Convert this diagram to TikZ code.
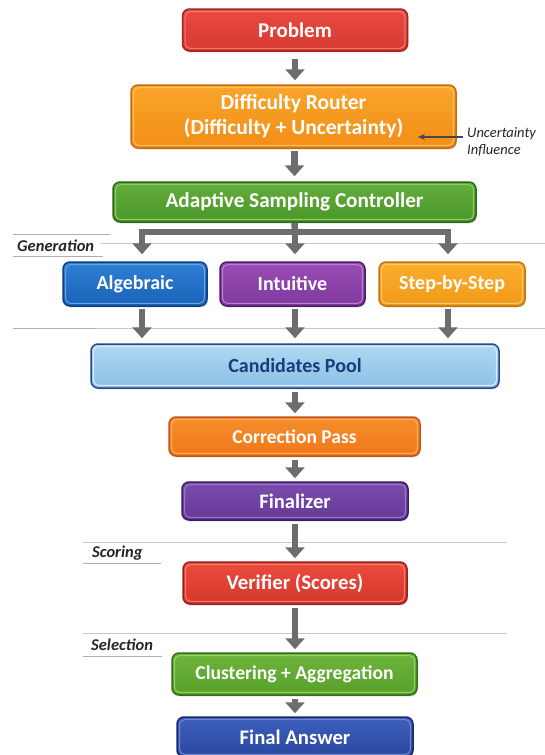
\documentclass[tikz,border=0pt]{standalone}
\usepackage{fontspec}
\setmainfont{Carlito}
\usetikzlibrary{arrows.meta,shadows}
\definecolor{probT}{HTML}{E94B42}\definecolor{probB}{HTML}{D63930}\definecolor{probD}{HTML}{A3261F}\definecolor{probL}{HTML}{F07A70}
\definecolor{diffT}{HTML}{F8A52A}\definecolor{diffB}{HTML}{F28E17}\definecolor{diffD}{HTML}{C96A12}\definecolor{diffL}{HTML}{FBC060}
\definecolor{ctrlT}{HTML}{62AD3C}\definecolor{ctrlB}{HTML}{4B9629}\definecolor{ctrlD}{HTML}{2E6718}\definecolor{ctrlL}{HTML}{8CCB62}
\definecolor{algT}{HTML}{2F80D6}\definecolor{algB}{HTML}{1962B7}\definecolor{algD}{HTML}{0F3F7E}\definecolor{algL}{HTML}{62A6E8}
\definecolor{intT}{HTML}{9B4DB5}\definecolor{intB}{HTML}{7F399E}\definecolor{intD}{HTML}{4D1C66}\definecolor{intL}{HTML}{B97FD0}
\definecolor{stepT}{HTML}{F9AD2E}\definecolor{stepB}{HTML}{F19A18}\definecolor{stepD}{HTML}{C47312}\definecolor{stepL}{HTML}{FCC868}
\definecolor{poolT}{HTML}{AED8F0}\definecolor{poolB}{HTML}{8BC0E6}\definecolor{poolD}{HTML}{27488A}\definecolor{poolL}{HTML}{D6ECF9}\definecolor{poolTx}{HTML}{1D3A7C}
\definecolor{corrT}{HTML}{F68D2C}\definecolor{corrB}{HTML}{F07818}\definecolor{corrD}{HTML}{C2561A}\definecolor{corrL}{HTML}{FAAE62}
\definecolor{finT}{HTML}{7B4CAB}\definecolor{finB}{HTML}{653998}\definecolor{finD}{HTML}{3C1C68}\definecolor{finL}{HTML}{9B76C4}
\definecolor{verT}{HTML}{EC4B3C}\definecolor{verB}{HTML}{D5382C}\definecolor{verD}{HTML}{99201A}\definecolor{verL}{HTML}{F27A6E}
\definecolor{clT}{HTML}{6DB43C}\definecolor{clB}{HTML}{57A02A}\definecolor{clD}{HTML}{336E18}\definecolor{clL}{HTML}{96CF6A}
\definecolor{faT}{HTML}{3D5FBB}\definecolor{faB}{HTML}{2A479F}\definecolor{faD}{HTML}{18296C}\definecolor{faL}{HTML}{6A88D2}
\definecolor{arrowgray}{HTML}{6D6D6D}
\definecolor{guidegray}{HTML}{C8C8C8}
\definecolor{ulgray}{HTML}{AFAFAF}
\definecolor{labelgray}{HTML}{262626}
\tikzset{
  box/.style={rounded corners=7pt, line width=1.5pt, inner sep=0pt, align=center,
    font=\fontsize{20}{25}\selectfont\bfseries, text=white,
    drop shadow={shadow xshift=0.8pt, shadow yshift=-1.5pt, opacity=0.22}},
  fs/.style={font=\fontsize{#1}{25}\selectfont\bfseries},
  hl/.style={path picture={\draw[#1, line width=1pt, rounded corners=5pt]
    ([shift={(2.6pt,-2.6pt)}]path picture bounding box.north west) rectangle
    ([shift={(-2.6pt,2.6pt)}]path picture bounding box.south east);}},
  cbox/.style n args={4}{box, top color=#1, bottom color=#2, draw=#3, hl=#4},
  arr/.style={draw=arrowgray, line width=6.5pt, -{Triangle[width=19pt,length=11pt]},
    shorten <=3pt, shorten >=3pt},
  shaft/.style={draw=arrowgray, line width=6.5pt},
  guide/.style={draw=guidegray, line width=0.9pt},
  uline/.style={draw=ulgray, line width=0.9pt},
  lbl/.style={font=\fontsize{16.5}{18}\selectfont\bfseries\itshape, text=labelgray, inner sep=0pt},
  thinarr/.style={draw=labelgray!85, line width=1.1pt, -{Stealth[width=6pt,length=7pt]}}
}
\begin{document}
\begin{tikzpicture}[x=1pt,y=-1pt]
\useasboundingbox (0,0) rectangle (545,755);
\fill[white] (0,0) rectangle (545,755);
\clip (0,0) rectangle (545,755);

% guide lines
\draw[uline] (13,234) -- (110,234);
\draw[guide] (100,243) -- (545,243);
\draw[uline] (13,256) -- (103,256);
\draw[uline] (13,328) -- (95,328);
\draw[guide] (95,328) -- (545,328);
\draw[guide] (83,542) -- (507,542);
\draw[uline] (83,563) -- (161,563);
\draw[guide] (83,633) -- (507,633);
\draw[uline] (83,656) -- (162,656);

\node[lbl, anchor=west] (lgen) at (17,246) {Generation};
\node[lbl, anchor=west] (lsco) at (92,553) {Scoring};
\node[lbl, anchor=west] (lsel) at (91,645) {Selection};

% boxes
\node[cbox={probT}{probB}{probD}{probL}, fs=21, minimum width=225pt, minimum height=42pt] (prob) at (295,30) {Problem};
\node[cbox={diffT}{diffB}{diffD}{diffL}, fs=21.5, minimum width=325pt, minimum height=63pt] (diff) at (293.5,116.5) {Difficulty Router\\(Difficulty + Uncertainty)};
\node[cbox={ctrlT}{ctrlB}{ctrlD}{ctrlL}, fs=21.2, minimum width=363pt, minimum height=40pt] (ctrl) at (294.5,202) {Adaptive Sampling Controller};
\node[cbox={algT}{algB}{algD}{algL}, minimum width=144pt, minimum height=44pt] (alg) at (135,284) {Algebraic};
\node[cbox={intT}{intB}{intD}{intL}, minimum width=145pt, minimum height=44pt] (int) at (292.5,284) {Intuitive};
\node[cbox={stepT}{stepB}{stepD}{stepL}, minimum width=146pt, minimum height=44pt] (step) at (452,284) {Step-by-Step};
\node[cbox={poolT}{poolB}{poolD}{poolL}, text=poolTx, minimum width=408pt, minimum height=44pt] (pool) at (295,366) {Candidates Pool};
\node[cbox={corrT}{corrB}{corrD}{corrL}, fs=19.5, minimum width=251pt, minimum height=39pt] (corr) at (294.5,436.5) {Correction Pass};
\node[cbox={finT}{finB}{finD}{finL}, fs=20.6, minimum width=226pt, minimum height=38pt] (fin) at (295,501) {Finalizer};
\node[cbox={verT}{verB}{verD}{verL}, fs=20.8, minimum width=224pt, minimum height=42pt] (ver) at (295,583) {Verifier (Scores)};
\node[cbox={clT}{clB}{clD}{clL}, fs=19.6, minimum width=245pt, minimum height=42pt] (clu) at (294.5,674) {Clustering + Aggregation};
\node[cbox={faT}{faB}{faD}{faL}, fs=20.7, minimum width=236pt, minimum height=40pt] (fa) at (295,737) {Final Answer};

% uncertainty annotation
\node[font=\fontsize{14.5}{17}\selectfont\itshape, text=labelgray, align=left, anchor=west, inner sep=0pt] (unc) at (467,141.5) {Uncertainty\\Influence};
\coordinate (uncS) at (463,137);
\coordinate (uncT) at (418,137);
\draw[thinarr] (uncS) -- (uncT);

% arrows
\draw[arr, shorten <=7pt, shorten >=4pt] (prob) -- (prob |- diff.north);
\draw[arr, shorten <=2pt, shorten >=5pt] (ctrl |- diff.south) -- (ctrl.north);
\coordinate (bm) at (295,232);
\draw[shaft] (ctrl.south) -- (bm);
\draw[arr, shorten <=0pt, shorten >=7pt, line join=miter] (bm) -| ([xshift=7pt]alg.north);
\draw[arr, shorten <=0pt, shorten >=7pt, line join=miter] (bm) -| ([xshift=-4pt]step.north);
\draw[arr, shorten <=0pt, shorten >=7pt] (bm) -- (bm |- int.north);
\draw[arr, shorten <=2pt, shorten >=5pt] ([xshift=7pt]alg.south) -- ([xshift=7pt]alg.south |- pool.north);
\draw[arr, shorten <=2pt, shorten >=5pt] ([xshift=2.5pt]int.south) -- ([xshift=2.5pt]int.south |- pool.north);
\draw[arr, shorten <=2pt, shorten >=5pt] ([xshift=-4pt]step.south) -- ([xshift=-4pt]step.south |- pool.north);
\draw[arr] (pool.south) -- (pool.south |- corr.north);
\draw[arr] (corr.south -| fin) -- (fin.north);
\draw[arr] (fin.south) -- (ver.north);
\draw[arr] (ver.south) -- (ver.south |- clu.north);
\draw[arr] (clu.south -| fa) -- (fa.north);
\end{tikzpicture}
\end{document}
